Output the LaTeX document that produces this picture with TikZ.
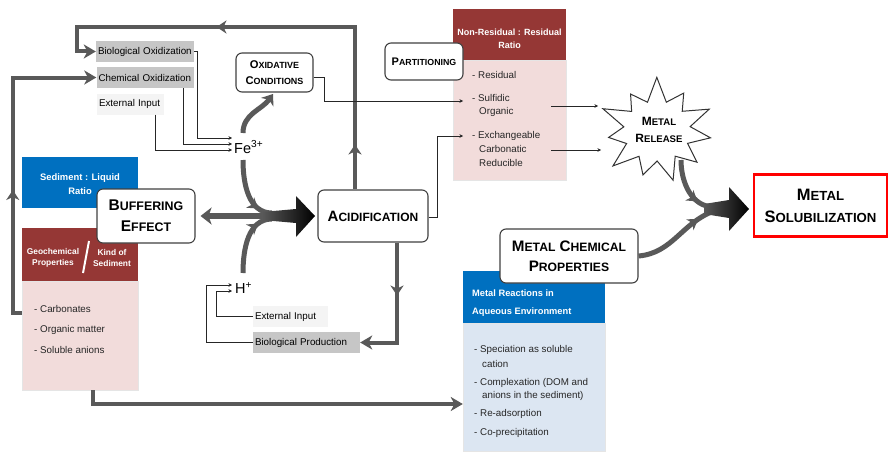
\documentclass[tikz,border=0pt]{standalone}
\usepackage{fontspec}
\setmainfont{Liberation Sans}
\usetikzlibrary{arrows.meta,decorations.markings}
\definecolor{dk}{HTML}{595959}
\definecolor{maroon}{HTML}{953735}
\definecolor{pinkb}{HTML}{F2DCDB}
\definecolor{blueh}{HTML}{0070C0}
\definecolor{blueb}{HTML}{DCE6F2}
\definecolor{gbox}{HTML}{C6C6C6}
\definecolor{lgbox}{HTML}{F4F4F4}
\makeatletter
\newlength\fsclen
\newcommand\fsc[2]{#1{\fsclen=\f@size pt\relax\fsclen=0.8\fsclen\fontsize{\fsclen}{\fsclen}\selectfont #2}}
\makeatother
\newcommand\smf{\fontsize{9.8}{12}\selectfont}
\begin{document}
\begin{tikzpicture}[x=1pt,y=-1pt,
  thk/.style={draw=dk, line width=4pt},
  thkarr/.style={thk, -{Stealth[length=12pt,width=14pt,inset=3.5pt]}},
  crv/.style={draw=dk, line width=5pt},
  thn/.style={draw=black!85, line width=0.8pt, -{Stealth[length=3.5pt,width=3.5pt]}},
  midarr/.style={postaction={decorate}, decoration={markings, mark=at position #1 with {\arrow{Stealth[length=10pt,width=13pt,inset=3pt,color=dk]}}}},
  midarrtwo/.style 2 args={postaction={decorate}, decoration={markings,
     mark=at position #1 with {\arrow{Stealth[length=10pt,width=13pt,inset=3pt,color=dk]}},
     mark=at position #2 with {\arrow{Stealth[length=10pt,width=13pt,inset=3pt,color=dk]}}}},
  sbox/.style={fill=gbox, font=\smf, text width=#1, align=left, inner xsep=2pt, inner ysep=0pt, minimum height=21pt},
  lbox/.style={sbox=#1, fill=lgbox},
  rbox/.style={draw=black!75, line width=1.1pt, rounded corners=6pt, fill=white, align=center, inner sep=0pt},
  itm/.style={font=\smf, text=black!85, anchor=west, inner sep=0pt},
  hdr/.style={text=white, inner sep=0pt, align=center},
]
\useasboundingbox (0,0) rectangle (890,452);

% ---- left column boxes ----
\node[fill=blueh, minimum width=116pt, minimum height=51pt, inner sep=0pt] (sed) at (80,182.5) {};
\node[hdr, font=\fontsize{9.4}{14}\selectfont\bfseries] (sedt) at (80,184) {Sediment : Liquid\\Ratio};
\node[fill=maroon, minimum width=116pt, minimum height=53pt, inner sep=0pt] (geoh) at (80,254.5) {};
\node[hdr, font=\fontsize{8.4}{11}\selectfont\bfseries] (geo1) at (53,257.5) {Geochemical\\Properties};
\node[hdr, font=\fontsize{8.4}{11}\selectfont\bfseries] (geo2) at (112,257.5) {Kind of\\Sediment};
\draw[white, line width=2pt] (89,241) -- (83,273);
\node[fill=pinkb, draw=black!10, minimum width=116pt, minimum height=109pt, inner sep=0pt] (geob) at (80,335.5) {};
\node[itm] (g1) at (34,309) {-~Carbonates};
\node[itm] (g2) at (34,330) {-~Organic matter};
\node[itm] (g3) at (34,350) {-~Soluble anions};

% ---- oxidation sources ----
\node[sbox=94pt] (bio) at (145,51.5) {Biological Oxidization};
\node[sbox=93pt] (chem) at (145,77.5) {Chemical Oxidization};
\node[lbox=63pt] (ext1) at (130.5,104) {External Input};
\node[font=\fontsize{14.5}{15}\selectfont, anchor=west, inner sep=0pt] (fe) at (234,147) {Fe\textsuperscript{3+}};
\coordinate (fein1) at (232,138);
\coordinate (fein2) at (232,144);
\coordinate (fein3) at (232,150);

% ---- H+ sources ----
\node[font=\fontsize{14.5}{15}\selectfont, anchor=west, inner sep=0pt] (hp) at (235,288) {H\textsuperscript{+}};
\node[lbox=71pt] (ext2) at (290.5,316.5) {External Input};
\node[sbox=103pt] (bprod) at (306.5,342.5) {Biological Production};
\coordinate (hin1) at (232,291);
\coordinate (hin2) at (232,285);

% ---- rounded boxes ----
\node[rbox, minimum width=77pt, minimum height=39pt, font=\fontsize{11.2}{15.5}\selectfont\bfseries] (oxc) at (274.5,72.5) {\fsc{O}{XIDATIVE}\\\fsc{C}{ONDITIONS}};
\node[rbox, minimum width=110pt, minimum height=52pt, font=\fontsize{15}{18}\selectfont\bfseries] (acid) at (373,216) {\fsc{A}{CIDIFICATION}};

% ---- partitioning ----
\node[fill=maroon, minimum width=113pt, minimum height=51pt, inner sep=0pt] (nrrh) at (509.5,34.5) {};
\node[hdr, font=\fontsize{9}{13}\selectfont\bfseries] (nrrt) at (509.5,38.5) {Non-Residual : Residual\\Ratio};
\node[fill=pinkb, draw=black!10, minimum width=113pt, minimum height=120pt, inner sep=0pt] (nrrb) at (509.5,120) {};
\node[itm] (n1) at (472,75) {-~Residual};
\node[itm] (n2) at (472,98) {-~Sulfidic};
\node[itm] (n2b) at (479,112) {Organic};
\node[itm] (n3) at (472,136) {-~Exchangeable};
\node[itm] (n3b) at (479,149) {Carbonatic};
\node[itm] (n3c) at (479,163) {Reducible};
\node[rbox, minimum width=78pt, minimum height=37pt, font=\fontsize{11}{13}\selectfont\bfseries] (part) at (424,61.5) {\fsc{P}{ARTITIONING}};
\coordinate (sulin) at (463,101);
\coordinate (excin) at (463,136);
\coordinate (sulout) at (551,106);
\coordinate (carbout) at (551,150);
\coordinate (relin1) at (598,106);
\coordinate (relin2) at (601,150);

% ---- metal reactions ----
\node[fill=blueh, minimum width=142pt, minimum height=52pt, inner sep=0pt] (mrah) at (534,297) {};
\node[hdr, anchor=west, font=\fontsize{9.3}{11}\selectfont\bfseries] (mrat1) at (472,293) {Metal Reactions in};
\node[hdr, anchor=west, font=\fontsize{9.3}{11}\selectfont\bfseries] (mrat2) at (472,312) {Aqueous Environment};
\node[fill=blueb, draw=black!10, minimum width=142pt, minimum height=128pt, inner sep=0pt] (mrab) at (534,387.5) {};
\node[itm] (m1) at (474,350) {-~Speciation as soluble};
\node[itm] (m1b) at (482,364) {cation};
\node[itm] (m2) at (474,383) {-~Complexation (DOM and};
\node[itm] (m2b) at (482,396) {anions in the sediment)};
\node[itm] (m3) at (474,414) {-~Re-adsorption};
\node[itm] (m4) at (474,433) {-~Co-precipitation};
\node[rbox, minimum width=138pt, minimum height=54pt, font=\fontsize{15.2}{20}\selectfont\bfseries] (mcp) at (569,256) {\fsc{M}{ETAL} \fsc{C}{HEMICAL}\\\fsc{P}{ROPERTIES}};

% ---- buffering ----
\node[rbox, minimum width=98pt, minimum height=54pt, font=\fontsize{15.5}{21}\selectfont\bfseries] (buff) at (146,216) {\fsc{B}{UFFERING}\\\fsc{E}{FFECT}};

% ---- metal solubilization ----
\node[draw=red, line width=2.6pt, minimum width=133pt, minimum height=62pt, inner sep=0pt, align=center, font=\fontsize{16.5}{22}\selectfont\bfseries] (msol) at (820.5,205.5) {\fsc{M}{ETAL}\\\fsc{S}{OLUBILIZATION}};

% ---- top-right merging arrow ----
\coordinate (relout) at (681,160);
\coordinate (j3) at (714,207);
\coordinate (j4) at (714,211);
\draw[crv, midarr=0.72] (relout) to[out=-90,in=180] (j3);
\draw[crv, midarr=0.8] (mcp.east) to[out=5,in=200] (j4);
\shade[left color=dk, right color=black] (704,204) -- (729,200) -- (729,187) -- (749,209) -- (729,231) -- (729,218) -- (704,214) -- cycle;

% ---- starburst ----
\draw[draw=black!80, line width=1pt, fill=white] plot[samples at={0,...,21}, variable=\k]
  ({657+1.08*ifthenelse(isodd(\k),31,50+5*sin(\k*97))*cos(\k*360/22+8)},
   {131+ifthenelse(isodd(\k),30,49+5*sin(\k*97))*sin(\k*360/22+8)}) -- cycle;
\node[align=center, inner sep=0pt, font=\fontsize{12}{17}\selectfont\bfseries] (rel) at (659,130) {\fsc{M}{ETAL}\\\fsc{R}{ELEASE}};

% ---- thick loops ----
\draw[thkarr, midarrtwo={45pt}{301pt}] ([xshift=-18pt]acid.north) |- (77,27) |- (bio.west);
\draw[thkarr, midarr=132pt] ([yshift=22.5pt]geob.west) -- ++(-9,0) |- (chem.west);
\draw[thkarr] ([xshift=13pt]geob.south) |- ([yshift=-16.5pt]mrab.west);
\draw[thkarr, midarr=53pt] ([xshift=24pt]acid.south) |- (bprod.east);

% ---- thin connectors ----
\draw[thn] (bio.east) -- ++(3,0) |- (fein1);
\draw[thn] ([xshift=38pt]chem.south) |- (fein2);
\draw[thn] ([xshift=24.5pt]ext1.south) |- (fein3);
\draw[thn] (ext2.west) -- ++(-36,0) |- (hin1);
\draw[thn] (bprod.west) -- ++(-46,0) |- (hin2);
\draw[thn] ([yshift=-4.5pt]oxc.east) -- ++(11,0) |- (sulin);
\draw[thn] ([yshift=-1pt]acid.east) -- ++(9,0) |- (excin);
\draw[thn] (sulout) -- (relin1);
\draw[thn] (carbout) -- (relin2);

% ---- central merging arrows ----
\coordinate (feup) at (243,133);
\coordinate (oxin) at (273,94);
\coordinate (fedown) at (243,160);
\coordinate (hup) at (243,273);
\coordinate (j1) at (272,213);
\coordinate (j2) at (272,219);
\coordinate (j0) at (275,216);
\draw[crv, -{Stealth[length=10pt,width=15pt,inset=3pt]}] (feup) to[out=90,in=-125] (oxin);
\draw[crv, midarr=0.78] (fedown) to[out=-90,in=180] (j1);
\draw[crv, midarr=0.78] (hup) to[out=90,in=180] (j2);
\draw[draw=dk, line width=5.5pt, {Stealth[length=11pt,width=17pt,inset=3pt]}-] ([xshift=5pt]buff.east) -- (j0);
\shade[left color=dk, right color=black] (262,212) -- (296,209) -- (296,196) -- (315,216) -- (296,237) -- (296,223) -- (262,220) -- cycle;
\end{tikzpicture}
\end{document}
